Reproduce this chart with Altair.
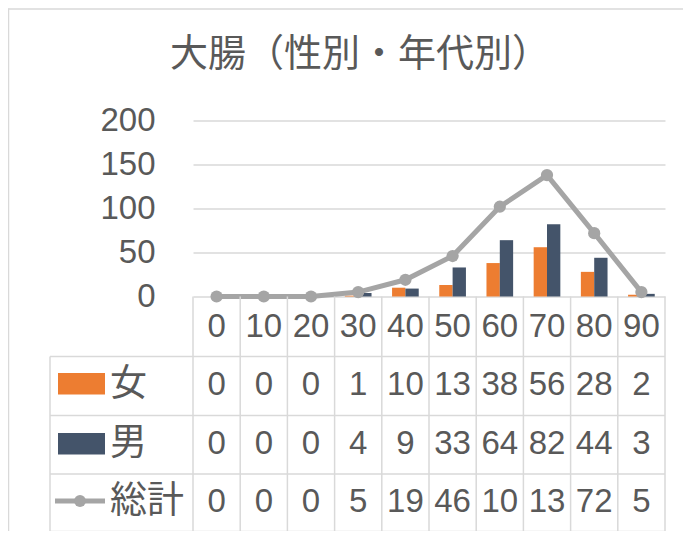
import altair as alt
import pandas as pd

ages = ["0", "10", "20", "30", "40", "50", "60", "70", "80", "90"]
female = [0, 0, 0, 1, 10, 13, 38, 56, 28, 2]
male = [0, 0, 0, 4, 9, 33, 64, 82, 44, 3]
total = [0, 0, 0, 5, 19, 46, 102, 138, 72, 5]
series = ["女", "男", "総計"]
title_text = "大腸（性別・年代別）"
y_ticks = [0, 50, 100, 150, 200]

ORANGE = "#ED7D31"
NAVY = "#44546A"
GRAY = "#A5A5A5"
TXT = "#595959"
GRID = "#D9D9D9"
W = 472
H = 176
NUM_FONT = "Liberation Sans"
CJK_FONT = "Noto Sans CJK JP"
NUM_SIZE = 33

bars_df = pd.DataFrame({"age": ages * 2, "sex": ["女"] * 10 + ["男"] * 10, "value": female + male})
tot_df = pd.DataFrame({"age": ages, "total": total})
table_df = pd.DataFrame({
    "age": ages * 3,
    "row": ["女"] * 10 + ["男"] * 10 + ["総計"] * 10,
    "v": female + male + total,
})
# Excel's data table clips 3-digit values to the cell width
table_df["label"] = table_df["v"].astype(str).str[:2]
one = pd.DataFrame({"k": [0]})


def xenc():
    return alt.X("age:N", sort=ages, scale=alt.Scale(paddingInner=0, paddingOuter=0), axis=None)


yscale = alt.Scale(domain=[0, 200], nice=False)

bars = alt.Chart(bars_df).mark_bar().encode(
    x=xenc(),
    xOffset=alt.XOffset("sex:N", sort=["女", "男"], scale=alt.Scale(paddingInner=0, paddingOuter=0.77)),
    y=alt.Y("value:Q", scale=yscale, title=None,
            axis=alt.Axis(values=y_ticks, title=None, domain=False, ticks=False,
                          labelFontSize=NUM_SIZE, labelFont=NUM_FONT, labelColor=TXT,
                          labelPadding=38, gridColor=GRID, gridWidth=1.5)),
    color=alt.Color("sex:N", scale=alt.Scale(domain=["女", "男"], range=[ORANGE, NAVY]), legend=None),
)

line = alt.Chart(tot_df).mark_line(color=GRAY, strokeWidth=5).encode(
    x=xenc(), y=alt.Y("total:Q", scale=yscale, title=None)
)
pts = alt.Chart(tot_df).mark_circle(color=GRAY, size=150, opacity=1).encode(
    x=xenc(), y=alt.Y("total:Q", scale=yscale, title=None)
)

TB = 411  # table bottom (px below plot top)
row_lines_y = [236, 295, 353.5, TB]
row_text_y = [264.5, 323.5, 381.5]
LEFT = -143

layers = [bars, line, pts]

# vertical table lines
layers.append(alt.Chart(tot_df).mark_rule(color=GRID, strokeWidth=1.5).encode(
    x=alt.X("age:N", sort=ages, bandPosition=0, axis=None), y=alt.value(H), y2=alt.value(TB)))
layers.append(alt.Chart(one).mark_rule(color=GRID, strokeWidth=1.5).encode(
    x=alt.value(W), y=alt.value(H), y2=alt.value(TB)))
layers.append(alt.Chart(one).mark_rule(color=GRID, strokeWidth=1.5).encode(
    x=alt.value(LEFT), y=alt.value(row_lines_y[0]), y2=alt.value(TB)))
for yy in row_lines_y:
    layers.append(alt.Chart(one).mark_rule(color=GRID, strokeWidth=1.5).encode(
        x=alt.value(LEFT), x2=alt.value(W), y=alt.value(yy)))

# header row (categories)
layers.append(alt.Chart(tot_df).mark_text(font=NUM_FONT, fontSize=NUM_SIZE, color=TXT, baseline="middle").encode(
    x=xenc(), y=alt.value(206), text="age:N"))

# data rows
for name, yy in zip(series, row_text_y):
    layers.append(alt.Chart(table_df).transform_filter(alt.datum.row == name).mark_text(
        font=NUM_FONT, fontSize=NUM_SIZE, color=TXT, baseline="middle").encode(
        x=xenc(), y=alt.value(yy), text="label:N"))
    layers.append(alt.Chart(one).mark_text(font=CJK_FONT, fontSize=37, color=TXT, baseline="middle",
                                           align="left").encode(
        x=alt.value(-83), y=alt.value(yy), text=alt.value(name)))

# legend keys
layers.append(alt.Chart(one).mark_rect(color=ORANGE).encode(
    x=alt.value(-135), x2=alt.value(-88), y=alt.value(252.5), y2=alt.value(274)))
layers.append(alt.Chart(one).mark_rect(color=NAVY).encode(
    x=alt.value(-135), x2=alt.value(-88), y=alt.value(312.5), y2=alt.value(334)))
layers.append(alt.Chart(one).mark_rule(color=GRAY, strokeWidth=5).encode(
    x=alt.value(-138), x2=alt.value(-88), y=alt.value(380.5)))
layers.append(alt.Chart(one).mark_circle(color=GRAY, size=140, opacity=1).encode(
    x=alt.value(-113), y=alt.value(380.5)))

# chart title
layers.append(alt.Chart(one).mark_text(font=CJK_FONT, fontSize=38, color=TXT, baseline="middle").encode(
    x=alt.value(167), y=alt.value(-65.5), text=alt.value(title_text)))

# chart border (top and left edges)
layers.append(alt.Chart(one).mark_rule(color=GRID, strokeWidth=1.5).encode(
    x=alt.value(-185), x2=alt.value(W + 18), y=alt.value(-111.5)))
layers.append(alt.Chart(one).mark_rule(color=GRID, strokeWidth=1.5).encode(
    x=alt.value(-184.5), y=alt.value(-112), y2=alt.value(H + 235)))

chart = alt.layer(*layers).properties(
    width=W, height=H,
    autosize=alt.AutoSizeParams(type="none"),
    padding={"left": 185, "top": 112.5, "right": 18, "bottom": 234.5},
    background="white",
).configure_view(strokeWidth=0)

chart.save("out.html", embed_options={"renderer": "svg", "actions": False})
